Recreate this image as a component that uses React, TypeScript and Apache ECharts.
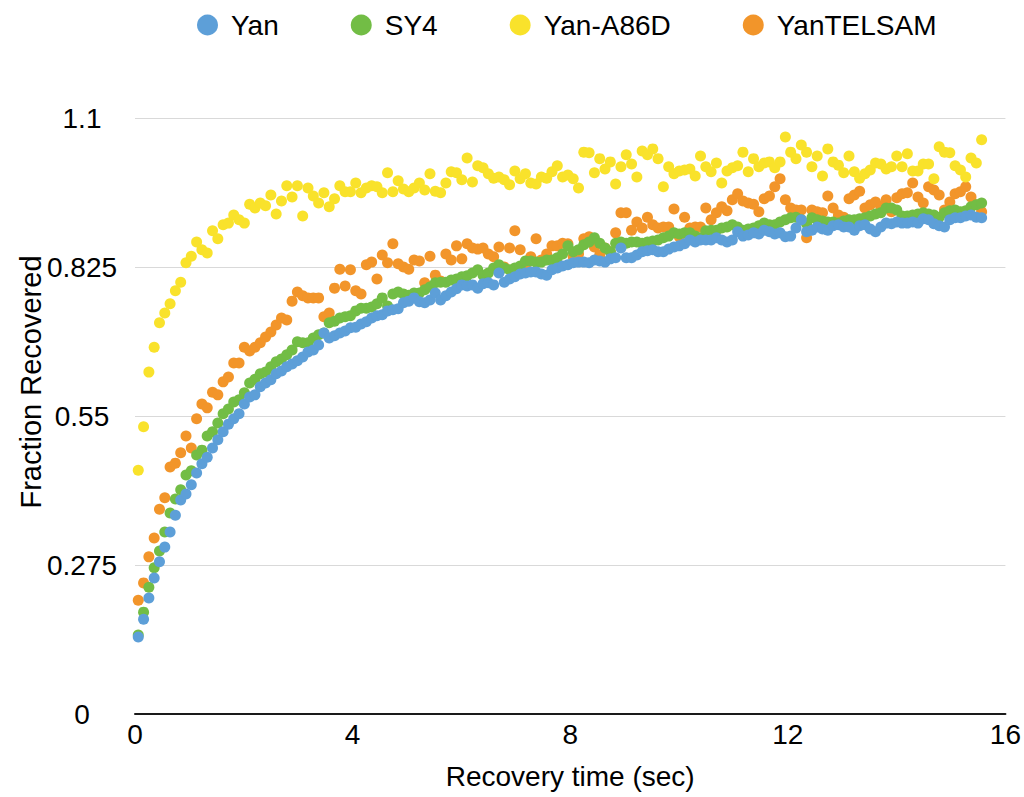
import React, { useEffect, useRef } from "react";
import * as echarts from "echarts";

// Sampling of the recovery time axis (sec)
const T0 = 0.06;
const DT = 0.0975;

const SERIES_NAMES = ["Yan", "SY4", "Yan-A86D", "YanTELSAM"];
const COLORS = ["#5D9FD8", "#72BD45", "#F9E22B", "#F2952A"];

const X_TICKS = [0, 4, 8, 12, 16];
const Y_TICK_LABELS = ["0", "0.275", "0.55", "0.825", "1.1"];

const YAN = [0.142,0.175,0.214,0.251,0.281,0.308,0.336,0.367,0.395,0.406,
0.423,0.445,0.462,0.474,0.491,0.506,0.521,0.535,0.545,0.554,
0.572,0.585,0.589,0.604,0.611,0.617,0.628,0.633,0.641,0.646,
0.652,0.659,0.668,0.672,0.681,0.703,0.694,0.698,0.703,0.707,
0.713,0.714,0.720,0.724,0.731,0.735,0.737,0.744,0.746,0.748,
0.759,0.762,0.768,0.761,0.759,0.764,0.777,0.764,0.772,0.779,
0.785,0.792,0.790,0.792,0.786,0.794,0.796,0.792,0.814,0.797,
0.803,0.807,0.812,0.814,0.816,0.816,0.812,0.810,0.820,0.823,
0.827,0.829,0.833,0.834,0.834,0.833,0.838,0.836,0.834,0.840,
0.842,0.860,0.842,0.842,0.847,0.853,0.855,0.857,0.853,0.853,
0.858,0.862,0.864,0.868,0.875,0.871,0.875,0.875,0.875,0.879,
0.875,0.871,0.875,0.890,0.882,0.884,0.888,0.886,0.893,0.890,
0.886,0.888,0.881,0.882,0.897,0.912,0.890,0.893,0.899,0.895,
0.893,0.901,0.903,0.899,0.899,0.893,0.901,0.903,0.895,0.890,
0.899,0.906,0.905,0.908,0.906,0.906,0.908,0.906,0.914,0.912,
0.905,0.901,0.899,0.912,0.916,0.916,0.919,0.921,0.917,0.916];

const SY4 = [0.146,0.188,0.234,0.270,0.301,0.336,0.371,0.397,0.414,0.441,
0.449,0.478,0.487,0.513,0.521,0.537,0.554,0.563,0.576,0.580,
0.593,0.611,0.618,0.628,0.631,0.641,0.650,0.655,0.663,0.672,
0.687,0.685,0.685,0.694,0.700,0.703,0.722,0.725,0.731,0.733,
0.735,0.744,0.749,0.749,0.751,0.757,0.768,0.753,0.775,0.779,
0.775,0.773,0.777,0.777,0.783,0.788,0.796,0.797,0.797,0.801,
0.803,0.807,0.809,0.814,0.820,0.810,0.814,0.823,0.829,0.823,
0.820,0.823,0.827,0.836,0.836,0.834,0.834,0.838,0.838,0.842,
0.849,0.864,0.853,0.857,0.866,0.871,0.879,0.869,0.860,0.853,
0.869,0.871,0.869,0.871,0.871,0.869,0.871,0.873,0.875,0.879,
0.882,0.888,0.886,0.888,0.888,0.882,0.879,0.892,0.893,0.893,
0.897,0.899,0.903,0.899,0.893,0.895,0.897,0.901,0.906,0.903,
0.903,0.908,0.912,0.916,0.917,0.912,0.905,0.916,0.912,0.910,
0.908,0.908,0.906,0.910,0.912,0.912,0.914,0.916,0.919,0.923,
0.925,0.934,0.934,0.930,0.919,0.919,0.921,0.923,0.925,0.923,
0.921,0.917,0.925,0.929,0.930,0.927,0.929,0.936,0.940,0.943];

const A86D = [0.450,0.530,0.631,0.677,0.722,0.740,0.757,0.781,0.797,0.833,
0.845,0.871,0.857,0.851,0.892,0.877,0.903,0.906,0.921,0.912,
0.906,0.941,0.934,0.943,0.938,0.958,0.923,0.947,0.975,0.954,
0.975,0.919,0.971,0.956,0.943,0.962,0.936,0.951,0.975,0.964,
0.964,0.980,0.962,0.971,0.975,0.973,0.962,0.999,0.964,0.984,
0.969,0.964,0.971,0.980,0.967,0.997,0.965,0.962,0.980,1.001,
0.999,0.986,1.026,0.982,1.012,1.008,0.997,0.989,0.991,0.986,
0.977,1.002,0.988,0.997,0.980,0.978,0.991,0.989,1.001,1.012,
0.991,0.995,0.988,0.971,1.037,1.036,0.999,1.025,1.006,1.019,
0.978,1.010,1.032,1.015,0.991,1.039,1.032,1.043,1.025,0.973,
1.010,0.997,1.002,1.004,1.006,0.993,1.030,1.010,1.001,1.017,
0.980,1.002,1.008,1.012,1.037,1.001,1.025,1.010,1.017,1.019,
1.008,1.019,1.065,1.037,1.025,1.050,1.037,1.010,1.030,0.993,
1.043,1.019,1.013,0.999,1.030,1.001,0.989,0.997,1.004,1.017,
1.015,1.006,1.010,1.030,1.010,1.034,1.002,1.002,1.015,1.015,
0.988,1.047,1.037,1.036,1.012,1.004,0.991,1.026,1.017,1.060];

const TELSAM = [0.210,0.242,0.290,0.325,0.378,0.399,0.456,0.463,0.482,0.513,
0.491,0.545,0.572,0.565,0.594,0.589,0.613,0.622,0.648,0.648,
0.677,0.670,0.677,0.685,0.696,0.705,0.718,0.731,0.727,0.762,
0.779,0.772,0.768,0.768,0.768,0.733,0.740,0.786,0.821,0.790,
0.820,0.781,0.775,0.829,0.834,0.803,0.847,0.833,0.868,0.831,
0.825,0.821,0.838,0.836,0.796,0.845,0.810,0.799,0.849,0.838,
0.864,0.840,0.868,0.860,0.858,0.860,0.849,0.844,0.862,0.825,
0.860,0.892,0.857,0.827,0.844,0.877,0.838,0.849,0.864,0.864,
0.869,0.868,0.844,0.849,0.877,0.881,0.862,0.847,0.860,0.853,
0.888,0.925,0.925,0.893,0.908,0.897,0.917,0.903,0.897,0.899,
0.899,0.932,0.881,0.917,0.897,0.899,0.899,0.934,0.912,0.925,
0.936,0.929,0.949,0.960,0.947,0.943,0.941,0.927,0.951,0.956,
0.973,0.988,0.949,0.934,0.930,0.930,0.879,0.930,0.927,0.925,
0.956,0.934,0.921,0.917,0.951,0.958,0.965,0.934,0.940,0.945,
0.936,0.949,0.927,0.953,0.960,0.962,0.980,0.954,0.943,0.973,
0.967,0.958,0.930,0.945,0.960,0.964,0.973,0.954,0.940,0.927];

const VALUES = [YAN, SY4, A86D, TELSAM];

const FONT = "'Liberation Sans', Arial, sans-serif";

export default function App() {
  const ref = useRef<HTMLDivElement>(null);

  useEffect(() => {
    if (!ref.current) return;
    const chart = echarts.init(ref.current, undefined, { renderer: "svg" });

    const series = VALUES.map((vals, si) => ({
      name: SERIES_NAMES[si],
      type: "scatter",
      symbol: "circle",
      symbolSize: 11,
      z: 10 - si,
      itemStyle: { color: COLORS[si], opacity: 1 },
      data: vals.map((v, i) => [+(T0 + i * DT).toFixed(4), v]),
    }));

    chart.setOption({
      animation: false,
      backgroundColor: "#ffffff",
      textStyle: { fontFamily: FONT },
      legend: {
        data: SERIES_NAMES,
        left: 192,
        top: 6,
        icon: "circle",
        itemWidth: 21,
        itemHeight: 21,
        itemGap: 72,
        textStyle: { fontSize: 28, color: "#000", fontFamily: FONT, padding: [0, 0, 0, 8] },
      },
      grid: { left: 135, right: 16, top: 118, bottom: 83, containLabel: false },
      xAxis: {
        type: "value",
        min: X_TICKS[0],
        max: X_TICKS[X_TICKS.length - 1],
        interval: 4,
        name: "Recovery time (sec)",
        nameLocation: "middle",
        nameGap: 48,
        nameTextStyle: { fontSize: 28, color: "#000", fontFamily: FONT },
        axisLine: { show: true, lineStyle: { color: "#1a1a1a", width: 2 } },
        axisTick: { show: false },
        splitLine: { show: false },
        axisLabel: { fontSize: 28, color: "#000", margin: 6, fontFamily: FONT },
      },
      yAxis: {
        type: "value",
        min: 0,
        max: 1.1,
        interval: 0.275,
        axisLine: { show: false },
        axisTick: { show: false },
        splitLine: { show: true, lineStyle: { color: "#d9d9d9", width: 1 } },
        axisLabel: {
          fontSize: 28,
          color: "#000",
          margin: 53,
          align: "center",
          fontFamily: FONT,
          formatter: (v: number) => Y_TICK_LABELS[Math.round(v / 0.275)] ?? String(v),
        },
      },
      graphic: [
        {
          type: "text",
          x: 31,
          y: 382,
          rotation: Math.PI / 2,
          style: {
            text: "Fraction Recovered",
            fontSize: 29,
            fontFamily: FONT,
            fill: "#000",
            align: "center",
            verticalAlign: "middle",
          },
        },
      ],
      series,
    });

    return () => chart.dispose();
  }, []);

  return (
    <div
      ref={ref}
      style={{ position: "fixed", left: 0, top: 0, width: 1024, height: 797, background: "#fff" }}
    />
  );
}
